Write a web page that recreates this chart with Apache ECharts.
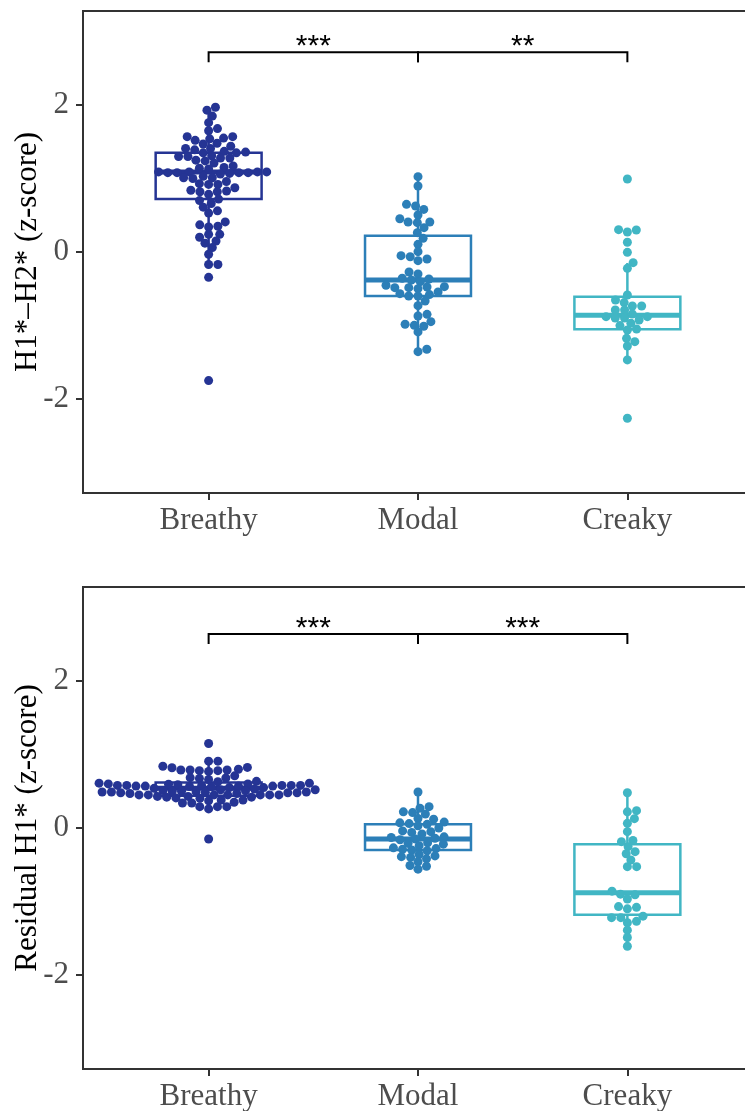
<!DOCTYPE html>
<html><head><meta charset="utf-8">
<script src="https://cdn.jsdelivr.net/npm/echarts@6/dist/echarts.min.js"></script>
<style>html,body{margin:0;padding:0;background:#fff}#c{width:745px;height:1111px}</style>
</head><body><div id="c"></div>
<script>
const categories = ['Breathy', 'Modal', 'Creaky'];
const colors = ['#253494', '#2c7fb8', '#41b6c4'];
const yTicks = [-2, 0, 2];

// Panel 1: H1*-H2* (z-score)
const h1h2Breathy = [1.97, 1.93, 1.85, 1.76, 1.68, 1.65, 1.55, 1.57, 1.57, 1.54, 1.52, 1.48, 1.47, 1.44, 1.41, 1.41, 1.39, 1.37, 1.35, 1.36, 1.31, 1.30, 1.28, 1.25, 1.24, 1.28, 1.30, 1.21, 1.15, 1.14, 1.13, 1.17, 1.35,
  1.09, 1.09, 1.09, 1.08, 1.08, 1.08, 1.09, 1.08, 1.07, 1.06,
  1.01, 1.03, 1.01, 1.00, 0.92, 0.96, 0.93, 0.92, 0.875, 0.82, 0.84, 0.83, 0.82, 0.785, 0.66, 0.72, 0.70, 0.61, 0.53, 0.56, 0.41, 0.37, 0.35, 0.34, 0.24, 0.24, 0.20, 0.12, 0.15, 0.06, -0.03, -0.17, -0.17, -0.345, -1.75];
const h1h2Modal = [1.025, 0.898, 0.626, 0.649, 0.58, 0.503, 0.453, 0.408, 0.399, 0.408, 0.331, 0.263, 0.186, 0.104, 0.005, -0.05, -0.064, -0.118, -0.095, -0.299, -0.272, -0.367, -0.381, -0.358, -0.404,
  -0.453, -0.499, -0.476, -0.485, -0.485, -0.472, -0.544, -0.599, -0.567, -0.58, -0.599, -0.667, -0.73, -0.848, -0.871, -0.948, -1.011, -0.998, -0.984, -1.088, -1.324, -1.356];
const h1h2Creaky = [0.993, 0.299, 0.304, 0.272, 0.132, -0.005, -0.145, -0.222, -0.585, -0.653, -0.689, -0.735, -0.735, -0.789, -0.789, -0.844, -0.925, -0.898, -0.88, -0.88, -0.898, -0.97, -1.002, -1.061, -1.048, -1.22, -1.175, -1.279, -1.469, -2.263];
// box stats: [lower whisker, Q1, median, Q3, upper whisker]
const h1h2Box = [[-0.17, 0.72, 1.09, 1.35, 1.97], [-1.34, -0.60, -0.38, 0.22, 1.02], [-1.47, -1.05, -0.86, -0.61, -0.15]];
const h1h2Signif = [[1, 2, '***'], [2, 3, '**']];
const h1h2BracketY = 2.72;

// Panel 2: Residual H1* (z-score)
const resBreathy = [1.15, 0.91, 0.91, 0.84, 0.825, 0.82,
  0.79, 0.79, 0.78, 0.79, 0.78, 0.77, 0.80,
  0.685, 0.675, 0.66, 0.68, 0.71,
  0.63, 0.61, 0.635, 0.61,
  0.60, 0.58, 0.58, 0.58, 0.57, 0.565, 0.57, 0.575, 0.58, 0.595, 0.60,
  0.59, 0.58, 0.57, 0.57, 0.56, 0.55, 0.55, 0.54, 0.53, 0.52, 0.52, 0.51, 0.50, 0.50, 0.49, 0.48, 0.47,
  0.48, 0.485, 0.49, 0.505, 0.495, 0.49, 0.48,
  0.41, 0.42, 0.43, 0.45, 0.45, 0.45, 0.45, 0.45, 0.45, 0.45, 0.43, 0.47, 0.42, 0.405,
  0.38, 0.35, 0.38, 0.37, 0.34, 0.34,
  0.29, 0.29, 0.29, 0.26, -0.15];
const resModal = [0.49, 0.29, 0.27, 0.22, 0.19, 0.21, 0.13, 0.12,
  0.08, 0.05, 0.06, 0.03, 0.07, 0.00,
  -0.04, -0.06, -0.08, -0.05,
  -0.12, -0.14, -0.16, -0.15, -0.13,
  -0.20, -0.22, -0.24, -0.21,
  -0.27, -0.29, -0.31, -0.30, -0.28,
  -0.36, -0.38, -0.40, -0.39, -0.42,
  -0.46, -0.52, -0.56, -0.51];
const resCreaky = [0.48, 0.22, 0.236, 0.127, 0.063, -0.05, -0.186, -0.17, -0.254, -0.322, -0.35, -0.435, -0.526, -0.526, -0.86, -0.90, -0.91, -0.966, -1.07, -1.08, -1.10, -1.22, -1.20, -1.22, -1.29, -1.27, -1.39, -1.49, -1.61];
const resBox = [[0.26, 0.44, 0.54, 0.62, 0.91], [-0.56, -0.30, -0.15, 0.05, 0.49], [-1.61, -1.18, -0.88, -0.22, 0.48]];
const resSignif = [[1, 2, '***'], [2, 3, '***']];
const resBracketY = 2.64;

const panels = [
  { title: 'H1*\u2013H2* (z-score)', groups: [h1h2Breathy, h1h2Modal, h1h2Creaky], box: h1h2Box, signif: h1h2Signif, bracketY: h1h2BracketY, top: 11 },
  { title: 'Residual H1* (z-score)', groups: [resBreathy, resModal, resCreaky], box: resBox, signif: resSignif, bracketY: resBracketY, top: 587 }
];

const SERIF = '"Liberation Serif", "Times New Roman", serif';
const SANS = '"Liberation Sans", Arial, sans-serif';
const chart = echarts.init(document.getElementById('c'), null, { renderer: 'canvas' });

const grids = [], xAxes = [], yAxes = [];
panels.forEach((p, i) => {
  grids.push({ left: 83, top: p.top, width: 670, height: 482, show: true, borderColor: '#333', borderWidth: 2, backgroundColor: 'transparent', containLabel: false, outerBoundsMode: 'none' });
  xAxes.push({
    gridIndex: i, type: 'value', min: 0.4, max: 3.6,
    axisLine: { show: true, onZero: false, lineStyle: { color: '#333', width: 2 } },
    axisTick: { show: true, length: 7, customValues: [1, 2, 3], lineStyle: { color: '#333', width: 2 } },
    axisLabel: { customValues: [1, 2, 3], formatter: v => categories[Math.round(v) - 1], fontFamily: SERIF, fontSize: 31, color: '#4d4d4d', margin: 12 },
    splitLine: { show: false }
  });
  yAxes.push({
    gridIndex: i, type: 'value', min: -3.28, max: 3.28,
    name: p.title, nameLocation: 'middle', nameGap: 40, nameMoveOverlap: false,
    nameTextStyle: { fontFamily: SERIF, fontSize: 31, color: '#000' },
    axisLine: { show: true, onZero: false, lineStyle: { color: '#333', width: 2 } },
    axisTick: { show: true, length: 7, customValues: yTicks, lineStyle: { color: '#333', width: 2 } },
    axisLabel: { customValues: yTicks, fontFamily: SERIF, fontSize: 31, color: '#4d4d4d', margin: 14 },
    splitLine: { show: false }
  });
});

chart.setOption({ animation: false, backgroundColor: '#fff', grid: grids, xAxis: xAxes, yAxis: yAxes, series: [] });

// beeswarm ("swarm") layout: points placed in ascending order at the free position closest to the centre
function swarm(values, pxX, pxY, d, yStretch) {
  const order = values.map((v, i) => i).sort((a, b) => values[a] - values[b]);
  const placed = [];
  const offs = new Array(values.length);
  for (const i of order) {
    const y = values[i] * pxY * yStretch;
    const near = placed.filter(q => Math.abs(q.y - y) < d);
    let cands = [0];
    for (const q of near) {
      const dx = Math.sqrt(d * d - (q.y - y) * (q.y - y));
      cands.push(q.x + dx, q.x - dx);
    }
    cands = cands.filter(c => near.every(q => (q.x - c) * (q.x - c) + (q.y - y) * (q.y - y) >= d * d - 1e-6));
    cands.sort((a, b) => Math.abs(a) - Math.abs(b));
    const x = cands[0];
    placed.push({ x, y });
    offs[i] = x / pxX;
  }
  return offs;
}

const series = [];
panels.forEach((p, gi) => {
  const a = chart.convertToPixel({ gridIndex: gi }, [1, 0]);
  const b = chart.convertToPixel({ gridIndex: gi }, [2, 1]);
  const pxX = b[0] - a[0], pxY = a[1] - b[1];
  series.push({
    type: 'custom', xAxisIndex: gi, yAxisIndex: gi, z: 2,
    data: p.box.map((s, k) => [k + 1].concat(s)),
    encode: { x: 0, y: [1, 2, 3, 4, 5] },
    renderItem: (params, api) => {
      const x = api.value(0);
      const c = colors[x - 1];
      const lo = api.coord([x, api.value(1)]), q1 = api.coord([x, api.value(2)]), md = api.coord([x, api.value(3)]), q3 = api.coord([x, api.value(4)]), hi = api.coord([x, api.value(5)]);
      const L = api.coord([x - 0.253, 0])[0], R = api.coord([x + 0.253, 0])[0];
      return { type: 'group', children: [
        { type: 'line', shape: { x1: lo[0], y1: lo[1], x2: q1[0], y2: q1[1] }, style: { stroke: c, lineWidth: 2.5 } },
        { type: 'line', shape: { x1: q3[0], y1: q3[1], x2: hi[0], y2: hi[1] }, style: { stroke: c, lineWidth: 2.5 } },
        { type: 'rect', shape: { x: L, y: q3[1], width: R - L, height: q1[1] - q3[1] }, style: { fill: '#fff', stroke: c, lineWidth: 2.5 } },
        { type: 'line', shape: { x1: L, y1: md[1], x2: R, y2: md[1] }, style: { stroke: c, lineWidth: 5 } }
      ] };
    }
  });
  p.groups.forEach((vals, k) => {
    const offs = swarm(vals, pxX, pxY, 9.3, 1.29);
    series.push({
      type: 'scatter', xAxisIndex: gi, yAxisIndex: gi, z: 3,
      symbol: 'circle', symbolSize: 9,
      itemStyle: { color: colors[k], opacity: 1 },
      data: vals.map((v, j) => [k + 1 + offs[j], v])
    });
  });
  series.push({
    type: 'custom', xAxisIndex: gi, yAxisIndex: gi, z: 4,
    data: p.signif.map(s => [s[0], s[1], p.bracketY]),
    renderItem: (params, api) => {
      const x1 = api.value(0), x2 = api.value(1), y = api.value(2);
      const txt = p.signif[params.dataIndex][2];
      const A = api.coord([x1, y]), B = api.coord([x2, y]);
      const tick = 10;
      return { type: 'group', children: [
        { type: 'polyline', shape: { points: [[A[0], A[1] + tick], A, B, [B[0], B[1] + tick]] }, style: { stroke: '#000', lineWidth: 2, fill: null } },
        { type: 'text', x: (A[0] + B[0]) / 2, y: A[1] - 5, style: { text: txt, fill: '#000', fontFamily: SANS, fontSize: 30, align: 'center', verticalAlign: 'middle' } }
      ] };
    }
  });
});

chart.setOption({ series: series });
</script>
</body></html>
